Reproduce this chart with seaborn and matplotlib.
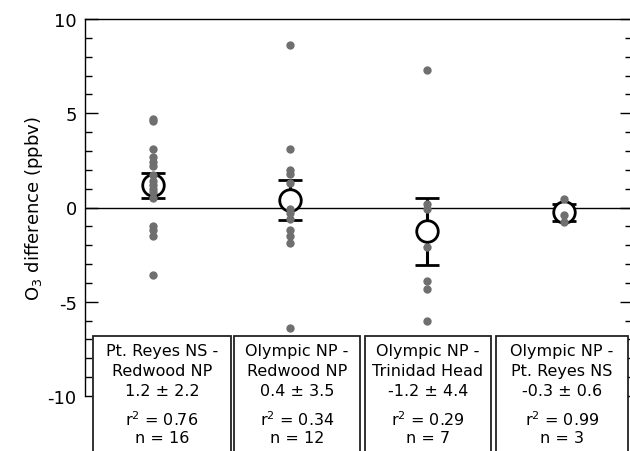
# O3 differences between coastal sites - strip plot with mean +/- error

import numpy as np
import pandas as pd
import matplotlib
matplotlib.use("Agg")
import matplotlib.pyplot as plt
import seaborn as sns
from matplotlib.patches import Rectangle
from matplotlib.ticker import MultipleLocator

# site pairs
pairs = ["Pt. Reyes NS -\nRedwood NP", "Olympic NP -\nRedwood NP",
         "Olympic NP -\nTrinidad Head", "Olympic NP -\nPt. Reyes NS"]

# individual differences (ppbv)
diff_pr_rw = [4.7, 4.6, 3.1, 2.7, 2.4, 2.2, 1.7, 1.4, 1.2, 1.0, 0.8, 0.5, -1.0, -1.2, -1.5, -3.6]
diff_ol_rw = [8.6, 3.1, 2.0, 1.8, 1.3, -0.1, -0.3, -0.6, -1.2, -1.5, -1.9, -6.4]
diff_ol_th = [7.3, 0.2, -0.1, -2.1, -3.9, -4.3, -6.0]
diff_ol_pr = [0.45, -0.4, -0.75]

# group mean and error bar half-width
means = [1.17, 0.38, -1.27, -0.25]
errs = [0.67, 1.06, 1.8, 0.45]

# box annotations
mean_sd = ["1.2 \u00b1 2.2", "0.4 \u00b1 3.5", "-1.2 \u00b1 4.4", "-0.3 \u00b1 0.6"]
r2 = ["0.76", "0.34", "0.29", "0.99"]
n_obs = [16, 12, 7, 3]

df = pd.DataFrame({
    "pair": np.repeat(pairs, [len(diff_pr_rw), len(diff_ol_rw), len(diff_ol_th), len(diff_ol_pr)]),
    "diff": diff_pr_rw + diff_ol_rw + diff_ol_th + diff_ol_pr,
})

sns.set_style("ticks")
plt.rcParams["font.family"] = ["DejaVu Sans"]
plt.rcParams["axes.unicode_minus"] = False
for key in ["text.color", "axes.labelcolor", "xtick.color", "ytick.color"]:
    plt.rcParams[key] = "black"

fig = plt.figure(figsize=(6.3, 4.52), dpi=100)
ax = fig.add_axes([85 / 630, 55 / 452, 547 / 630, 377 / 452])

ax.axhline(0, color="black", lw=1.0, zorder=1)

ax.errorbar(range(len(pairs)), means, yerr=errs, fmt="o", ms=15.5, mfc="white",
            mec="black", mew=2, ecolor="black", elinewidth=2.2, capsize=8.5,
            capthick=2.5, zorder=3)

sns.stripplot(data=df, x="pair", y="diff", order=pairs, jitter=False,
              color="#6f6f6f", size=6, linewidth=0, ax=ax, zorder=4)

ax.set_xlim(-0.5, 3.5)
ax.set_ylim(-10, 10)
ax.set_xticks([])
ax.set_xlabel("")
ax.set_ylabel("O$_3$ difference (ppbv)", fontsize=13, labelpad=2)

ax.yaxis.set_major_locator(MultipleLocator(5))
ax.yaxis.set_minor_locator(MultipleLocator(1))
ax.tick_params(axis="y", which="both", direction="in", right=True, labelsize=13,
               width=1, pad=6, colors="black")
ax.tick_params(axis="y", which="major", length=9)
ax.tick_params(axis="y", which="minor", length=5)

for side in ["left", "top", "right"]:
    ax.spines[side].set_color("black")
    ax.spines[side].set_linewidth(1)
ax.spines["bottom"].set_visible(False)

# annotation boxes below the data
box_edges = [(-0.442, 0.567), (0.589, 1.51), (1.547, 2.469), (2.505, 3.471)]
trans = ax.get_xaxis_transform()
for i, (x0, x1) in enumerate(box_edges):
    ax.add_patch(Rectangle((x0, -0.16), x1 - x0, 0.319, transform=trans,
                           facecolor="white", edgecolor="#222222", lw=1.3,
                           clip_on=False, zorder=5))
    xc = (x0 + x1) / 2
    lines = pairs[i].split("\n") + [mean_sd[i]]
    for k, txt in enumerate(lines):
        ax.text(xc, 0.120 - 0.053 * k, txt, transform=trans, ha="center", va="center",
                fontsize=11.5, zorder=6, clip_on=False)
    ax.text(xc, -0.060, f"r$^2$ = {r2[i]}", transform=trans, ha="center", va="center",
            fontsize=11.5, zorder=6, clip_on=False)
    ax.text(xc, -0.110, f"n = {n_obs[i]}", transform=trans, ha="center", va="center",
            fontsize=11.5, zorder=6, clip_on=False)

fig.savefig("out.png", dpi=100)
